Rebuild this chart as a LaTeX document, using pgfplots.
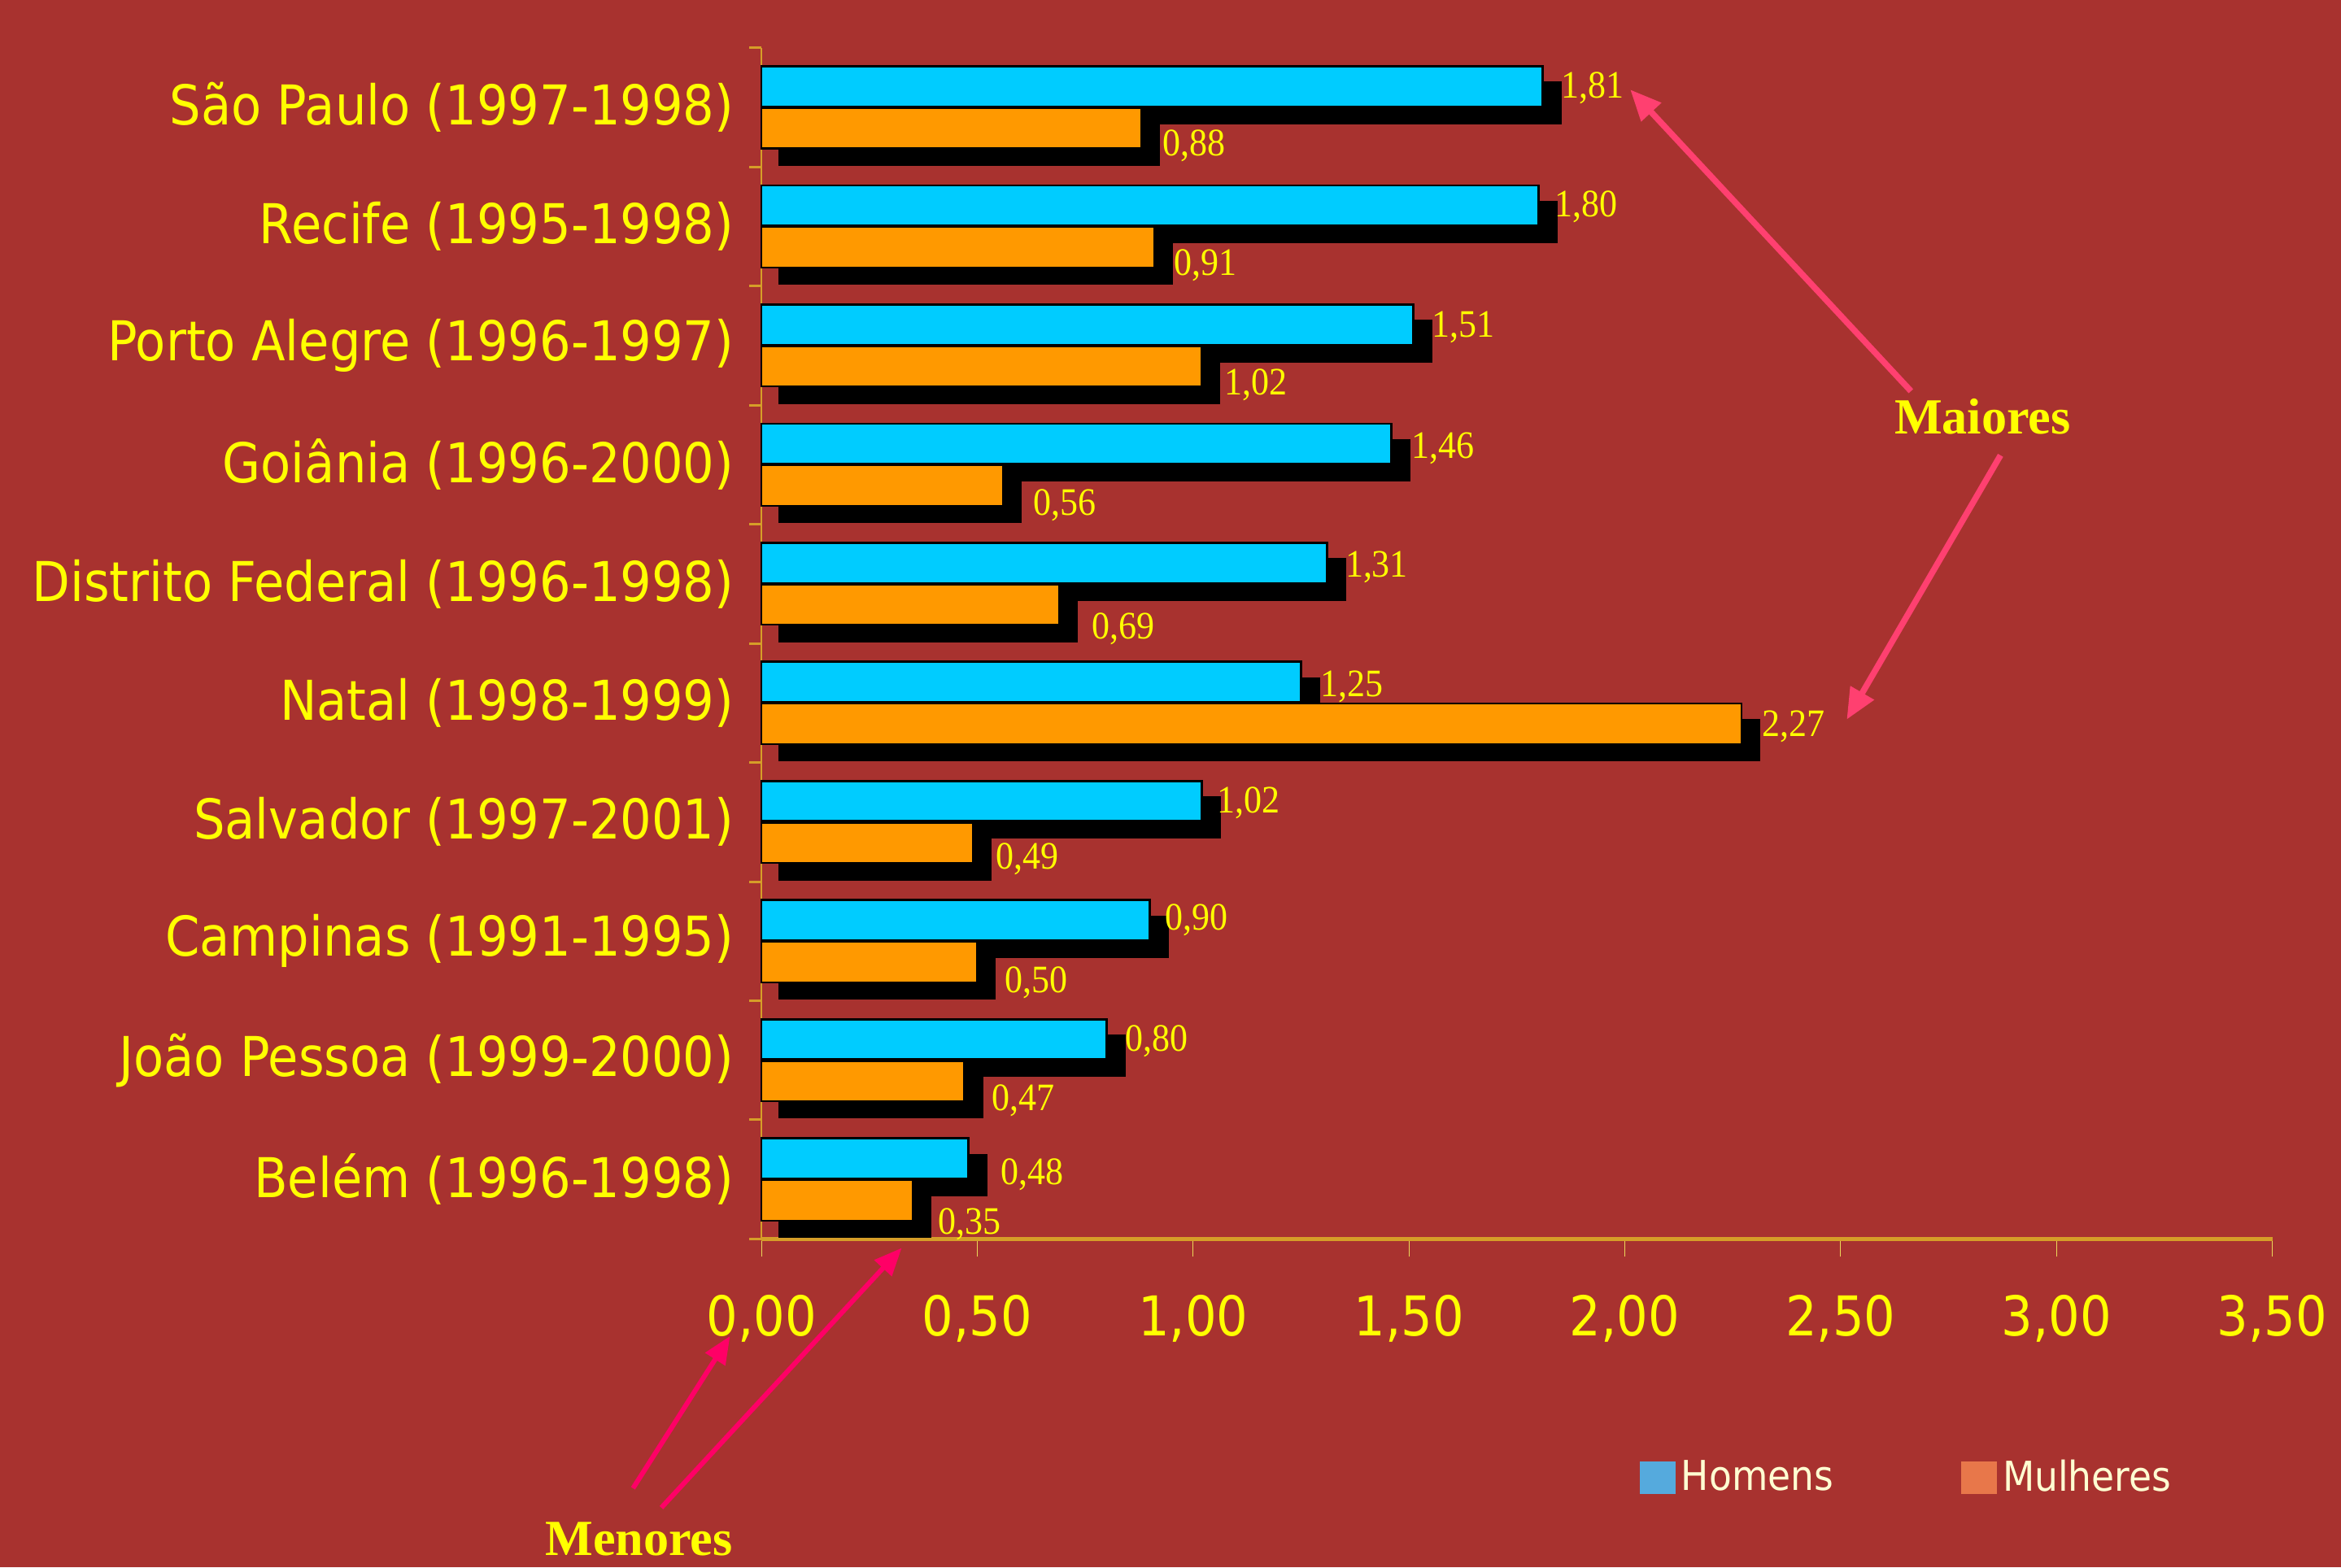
\documentclass[border=0pt]{standalone}
\usepackage{pgfplots}
\pgfplotsset{compat=1.18}
\usepackage{pgfplotstable}
\usepackage{fontspec}
\setmainfont{Liberation Serif}
\newfontfamily\catfont[FakeStretch=0.9]{DejaVu Sans}
\newfontfamily\valfont[FakeStretch=0.92]{Liberation Serif}
\usetikzlibrary{shadows,arrows.meta}
\definecolor{bgred}{RGB}{168,50,47}
\definecolor{barcyan}{RGB}{0,204,255}
\definecolor{barorange}{RGB}{255,153,0}
\definecolor{txtyellow}{RGB}{255,255,0}
\definecolor{legblue}{RGB}{85,170,221}
\definecolor{legorange}{RGB}{232,119,74}
\definecolor{cream}{RGB}{255,255,210}
\definecolor{axgold}{RGB}{214,158,40}
\definecolor{tickyellow}{RGB}{235,215,90}
\definecolor{pinkA}{RGB}{255,64,112}
\definecolor{pinkB}{RGB}{255,0,102}

\pgfplotstableread{
y h m hdy mdy hdx mdx
9 1.81 0.88 1 12 0 2
8 1.80 0.91 1 12 -1.5 1
7 1.51 1.02 1.5 12.5 0.4 3
6 1.46 0.56 3 13 1 8
5 1.31 0.69 3 16 0 9.5
4 1.25 2.27 3 2 0.6 1.6
3 1.02 0.49 1 11 -2 3
2 0.90 0.50 0 14 -2 6
1 0.80 0.47 1 13 0 6
0 0.48 0.35 11 16 9 5
}\datatable

\begin{document}
\begin{tikzpicture}
\useasboundingbox (0,0) rectangle (287.81mm,192.73mm);
\fill[bgred] (0,0) rectangle (287.81mm,192.73mm);
\begin{axis}[
  at={(93.61mm,40.38mm)}, anchor=south west,
  scale only axis, width=185.75mm, height=146.47mm,
  xmin=0, xmax=3.5, ymin=-0.5, ymax=9.5,
  axis x line*=bottom, axis y line*=left,
  x axis line style={draw=axgold, line width=0.45mm},
  y axis line style={draw=axgold, line width=0.25mm},
  xtick={0,0.5,1,1.5,2,2.5,3,3.5},
  xtick style={draw=tickyellow, line width=0.3pt},
  tick align=outside, major tick length=2.2mm,
  ytick={0,...,9},
  yticklabels={Belém (1996-1998), João Pessoa (1999-2000), Campinas (1991-1995), Salvador (1997-2001), Natal (1998-1999), Distrito Federal (1996-1998), Goiânia (1996-2000), Porto Alegre (1996-1997), Recife (1995-1998), São Paulo (1997-1998)},
  ytick style={draw=none},
  yticklabel style={font=\catfont\fontsize{19.2}{22}\selectfont, text=txtyellow, anchor=east, inner sep=0pt, xshift=-1.1mm},
  xticklabel style={font=\catfont\fontsize{19.2}{22}\selectfont, text=txtyellow, anchor=north, inner sep=0pt, yshift=-4.6mm},
  /pgf/number format/fixed, /pgf/number format/fixed zerofill,
  /pgf/number format/precision=2, /pgf/number format/use comma,
  /pgf/number format/assume math mode=true,
  clip=false,
  legend columns=2,
  legend style={at={(0.581,-0.2005)}, anchor=west, draw=none, fill=none, inner sep=0pt,
    font=\catfont\fontsize{14.4}{16}\selectfont, text=cream,
    /tikz/every even column/.append style={column sep=15mm}},
  legend image code/.code={\path[#1] (0mm,-2mm) rectangle (4.4mm,2mm);},
]
% bars with shadows
\addplot[xbar, forget plot, bar width=4.956mm, bar shift=2.57mm, fill=barcyan, draw=black, line width=0.8pt,
  drop shadow={shadow xshift=2.2mm, shadow yshift=-2.02mm, opacity=1, fill=black}]
  table[x=h,y=y]{\datatable};
\addplot[xbar, forget plot, bar width=4.956mm, bar shift=-2.57mm, fill=barorange, draw=black, line width=0.6pt,
  drop shadow={shadow xshift=2.2mm, shadow yshift=-2.02mm, opacity=1, fill=black}]
  table[x=m,y=y]{\datatable};
% value labels
\addplot[xbar, forget plot, bar width=4.956mm, bar shift=2.57mm, draw=none, fill=none,
  point meta=x,
  nodes near coords={\pgfmathprintnumber[fixed,fixed zerofill,precision=2,use comma,assume math mode=true]{\pgfplotspointmeta}},
  visualization depends on={\thisrow{hdx} \as \labdx},
  visualization depends on={\thisrow{hdy} \as \labdy},
  every node near coord/.append style={anchor=west, inner sep=0pt, text=txtyellow,
    font=\valfont\fontsize{13.6}{15}\selectfont,
    xshift={(12+\labdx)*0.18355mm}, yshift={(14-\labdy)*0.18355mm}}]
  table[x=h,y=y]{\datatable};
\addplot[xbar, forget plot, bar width=4.956mm, bar shift=-2.57mm, draw=none, fill=none,
  point meta=x,
  nodes near coords={\pgfmathprintnumber[fixed,fixed zerofill,precision=2,use comma,assume math mode=true]{\pgfplotspointmeta}},
  visualization depends on={\thisrow{mdx} \as \labdx},
  visualization depends on={\thisrow{mdy} \as \labdy},
  every node near coord/.append style={anchor=west, inner sep=0pt, text=txtyellow,
    font=\valfont\fontsize{13.6}{15}\selectfont,
    xshift={(12+\labdx)*0.18355mm}, yshift={-(14+\labdy)*0.18355mm}}]
  table[x=m,y=y]{\datatable};
% category boundary ticks
\pgfplotsinvokeforeach{-0.5,0.5,1.5,2.5,3.5,4.5,5.5,6.5,7.5,8.5,9.5}{
  \draw[axgold, line width=0.3mm] (axis cs:0,#1) -- ([xshift=-1.5mm]axis cs:0,#1);
}
\addlegendimage{fill=legblue, draw=none}
\addlegendentry{Homens}
\addlegendimage{fill=legorange, draw=none}
\addlegendentry{Mulheres}
\end{axis}
\begin{scope}[x=0.18355mm,y=0.18355mm]
\draw[pinkA, line width=0.75mm, -{Triangle[length=3.8mm,width=3.2mm]}] (1280,788) -- (1092,990);
\draw[pinkA, line width=0.75mm, -{Triangle[length=3.8mm,width=3.2mm]}] (1340,745) -- (1237,568);
\node[text=txtyellow, font=\bfseries\fontsize{17.7}{20}\selectfont] at (1328,771) {Maiores};
\draw[pinkB, line width=0.6mm, -{Triangle[length=3.4mm,width=2.8mm]}] (424,53) -- (489,155);
\draw[pinkB, line width=0.6mm, -{Triangle[length=3.4mm,width=2.8mm]}] (443,40) -- (604,214);
\node[text=txtyellow, font=\bfseries\fontsize{17.7}{20}\selectfont] at (428,19) {Menores};
\end{scope}
\end{tikzpicture}
\end{document}
